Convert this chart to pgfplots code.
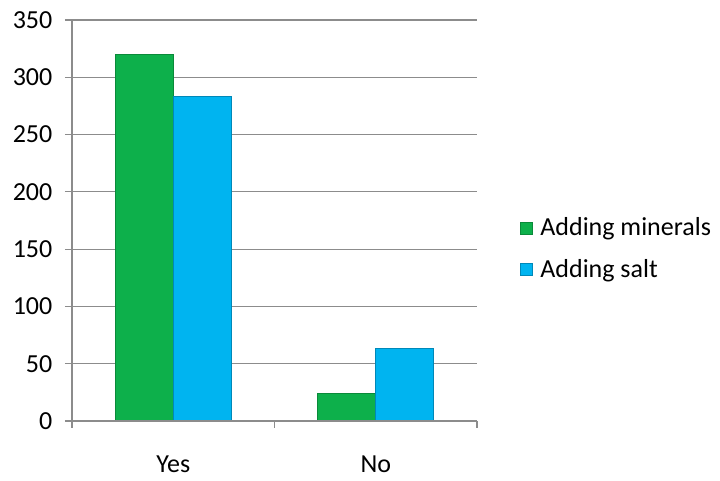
\documentclass[border=0pt]{standalone}
\usepackage{pgfplots}
\pgfplotsset{compat=1.18}
\usepackage{fontspec}
\setmainfont{Carlito}
\definecolor{mgreen}{HTML}{0DB04B}
\definecolor{mgreenD}{HTML}{0A8A3A}
\definecolor{mblue}{HTML}{00B4F0}
\definecolor{mblueD}{HTML}{0088B8}
\definecolor{gridg}{HTML}{8C8C8C}
\begin{document}
\begin{tikzpicture}[x=0.75pt,y=0.75pt]
\path (0,0) rectangle (720,480);
\begin{axis}[
  at={(54pt,44.25pt)}, anchor=south west,
  scale only axis, width=303.75pt, height=300.75pt,
  /pgf/number format/assume math mode=true,
  ybar=0pt, bar width=43.5pt,
  xmin=-0.5, xmax=1.5, ymin=0, ymax=350,
  ytick={0,50,...,350},
  xtick={0,1}, xticklabels={Yes,No},
  tick pos=left,
  major x tick style={draw=none},
  axis line style={draw=none},
  ymajorgrids, grid style={draw=gridg, line width=0.9pt},
  y tick style={draw=gridg, line width=0.9pt},
  major tick length=5.25pt, tick align=outside,
  tick label style={font=\fontsize{19.5}{22}\selectfont, text=black},
  yticklabel style={xshift=-6pt},
  xticklabel style={yshift=-17pt},
  legend cell align=left,
  legend style={at={(1.095,0.43)}, anchor=west, draw=none, fill=none,
    font=\fontsize{19.5}{22}\selectfont, row sep=12pt,
    /tikz/every odd column/.append style={column sep=4pt}},
  legend image code/.code={\draw[#1, line width=0.5pt] (0pt,-4.5pt) rectangle (9pt,4.5pt);},
  after end axis/.code={
    \draw[gridg, line width=0.9pt] (rel axis cs:0,1) -- (rel axis cs:0,0) -- (rel axis cs:1,0);
    \foreach \r in {0,0.5,1} {\draw[gridg, line width=0.9pt] (rel axis cs:\r,0) -- ++(0,-5.25pt);}
  },
]
\addplot[fill=mgreen, draw=mgreenD, line width=0.6pt] coordinates {(0,320) (1,24)};
\addplot[fill=mblue, draw=mblueD, line width=0.6pt] coordinates {(0,283) (1,63)};
\legend{Adding minerals, Adding salt}
\end{axis}
\end{tikzpicture}
\end{document}
